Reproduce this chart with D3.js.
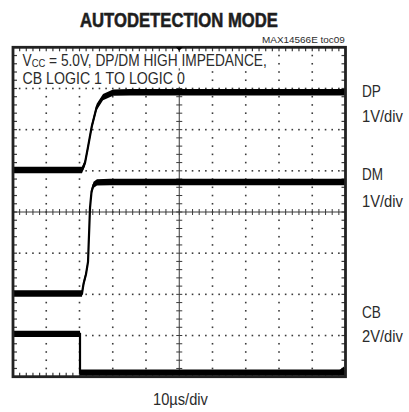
<!DOCTYPE html>
<html>
<head>
<meta charset="utf-8">
<script src="https://cdn.jsdelivr.net/npm/d3@7"></script>
<style>
  html, body { margin: 0; padding: 0; background: #fff; }
  svg { display: block; }
  text { font-family: "Liberation Sans", Arial, sans-serif; fill: #2b2b2b; }
</style>
</head>
<body>
<div id="chart"></div>
<script>
// ---- data (time in µs, level in screen divisions from centre) ----
const timeDP  = [0, 20.75, 21.65, 22.56, 23.67, 25.17, 27.07, 30.08, 35.19, 100];
const levelDP = [1.02, 1.02, 1.19, 1.58, 2.07, 2.55, 2.79, 2.90, 2.91, 2.91];

const timeDM  = [0, 20.75, 21.2, 21.95, 22.56, 22.86, 23.16, 23.61, 24.21, 25.26, 29.17, 100];
const levelDM = [-1.98, -1.98, -1.75, -1.51, -1.21, -0.56, 0.10, 0.49, 0.66, 0.72, 0.73, 0.73];

const timeCB  = [0, 20.15, 20.15, 100];
const levelCB = [-2.96, -2.96, -3.90, -3.90];

const channelNames = ["DP", "DM", "CB"];
const channelScales = ["1V/div", "1V/div", "2V/div"];

const titleText = "AUTODETECTION MODE";
const partText = "MAX14566E toc09";
const condLine1 = ["V", "CC", " = 5.0V, DP/DM HIGH IMPEDANCE,"];
const condLine2 = "CB LOGIC 1 TO LOGIC 0";
const timeBaseText = "10µs/div";

const xDivs = 10, yDivs = 8, minorPerDiv = 5;

// ---- layout ----
const W = 409, H = 412;
const L = 13, R = 345.5, T = 47.3, B = 376.7;

const svg = d3.select("#chart").append("svg").attr("width", W).attr("height", H);

const x = d3.scaleLinear().domain([0, 100]).range([L, R]);
const y = d3.scaleLinear().domain([-4, 4]).range([B, T]);
const xDiv = d3.scaleLinear().domain([0, xDivs]).range([L, R]);
const yDiv = d3.scaleLinear().domain([0, yDivs]).range([B, T]);

// ---- grid dots ----
const grid = svg.append("g").attr("fill", "#3a3a3a");
for (let i = 1; i < xDivs; i++) {
  if (i === xDivs / 2) continue;
  for (let k = 1; k < yDivs * minorPerDiv; k++) {
    grid.append("rect").attr("x", xDiv(i) - 0.8).attr("y", yDiv(k / minorPerDiv) - 0.8)
      .attr("width", 1.6).attr("height", 1.6);
  }
}
for (let j = 1; j < yDivs; j++) {
  if (j === yDivs / 2) continue;
  for (let k = 1; k < xDivs * minorPerDiv; k++) {
    if (k % minorPerDiv === 0) continue;
    grid.append("rect").attr("x", xDiv(k / minorPerDiv) - 0.8).attr("y", yDiv(j) - 0.8)
      .attr("width", 1.6).attr("height", 1.6);
  }
}

// ---- centre cross with ticks ----
const cross = svg.append("g").attr("stroke", "#3a3a3a").attr("stroke-width", 1);
const cx = xDiv(xDivs / 2), cy = yDiv(yDivs / 2);
cross.append("line").attr("x1", L).attr("x2", R).attr("y1", cy).attr("y2", cy);
cross.append("line").attr("x1", cx).attr("x2", cx).attr("y1", T).attr("y2", B);
for (let k = 1; k < xDivs * minorPerDiv; k++) {
  const px = xDiv(k / minorPerDiv);
  cross.append("line").attr("x1", px).attr("x2", px).attr("y1", cy - 3).attr("y2", cy + 3);
}
for (let k = 1; k < yDivs * minorPerDiv; k++) {
  const py = yDiv(k / minorPerDiv);
  cross.append("line").attr("x1", cx - 3).attr("x2", cx + 3).attr("y1", py).attr("y2", py);
}

// ---- border ticks ----
const bt = svg.append("g").attr("stroke", "#3a3a3a").attr("stroke-width", 1.2);
for (let k = 1; k < xDivs * minorPerDiv; k++) {
  const px = xDiv(k / minorPerDiv);
  bt.append("line").attr("x1", px).attr("x2", px).attr("y1", B).attr("y2", B - 4);
  bt.append("line").attr("x1", px).attr("x2", px).attr("y1", T).attr("y2", T + 4);
}
for (let k = 1; k < yDivs * minorPerDiv; k++) {
  const py = yDiv(k / minorPerDiv);
  bt.append("line").attr("x1", L).attr("x2", L + 4).attr("y1", py).attr("y2", py);
  bt.append("line").attr("x1", R).attr("x2", R - 4).attr("y1", py).attr("y2", py);
}

// ---- traces ----
function drawTrace(ts, vs) {
  const pts = ts.map((t, i) => [t, vs[i]]);
  const area = d3.area().x(d => x(d[0])).y0(d => y(d[1]) - 3.2).y1(d => y(d[1]) + 3.2);
  svg.append("path").attr("d", area(pts)).attr("fill", "#000");
  const line = d3.line().x(d => x(d[0])).y(d => y(d[1]));
  svg.append("path").attr("d", line(pts)).attr("fill", "none")
    .attr("stroke", "#000").attr("stroke-width", 2.2);
}
drawTrace(timeDP, levelDP);
drawTrace(timeDM, levelDM);
drawTrace(timeCB, levelCB);

// ---- frame ----
svg.append("rect").attr("x", L).attr("y", T).attr("width", R - L).attr("height", B - T)
  .attr("fill", "none").attr("stroke", "#222").attr("stroke-width", 2.8);

// trigger marker on top, ground marker on right
svg.append("path").attr("d", `M${cx - 3.5},${T} L${cx + 3.5},${T} L${cx},${T + 3.5} Z`).attr("fill", "#000");
const gy = y(levelCB[levelCB.length - 1]) - 2.5;
svg.append("path").attr("d", `M${R - 6},${gy} L${R - 1.5},${gy - 3.5} L${R - 1.5},${gy + 3.5} Z`).attr("fill", "#000");

// ---- text helper (fits text to measured width) ----
function placeText(parts, xPos, yBase, size, weight, targetW, anchor, knockout) {
  const g = svg.append("g");
  const t = g.append("text").attr("x", 0).attr("y", 0).attr("font-size", size).attr("font-weight", weight);
  if (Array.isArray(parts)) {
    t.append("tspan").text(parts[0]);
    t.append("tspan").attr("font-size", size * 0.69).attr("dy", 1.5).text(parts[1]);
    t.append("tspan").attr("dy", -1.5).text(parts[2]);
  } else {
    t.text(parts);
  }
  const bb = t.node().getBBox();
  const s = bb.width > 0 ? targetW / bb.width : 1;
  let x0 = xPos - bb.x * s;
  if (anchor === "end") x0 = xPos - (bb.x + bb.width) * s;
  if (anchor === "middle") x0 = xPos - (bb.x + bb.width / 2) * s;
  g.attr("transform", `translate(${x0},${yBase}) scale(${s},1)`);
  if (knockout) {
    g.insert("rect", "text")
      .attr("x", bb.x - 1.5 / s).attr("y", -size * 0.74 - 1.5)
      .attr("width", bb.width + 3 / s).attr("height", size * 0.74 + 4)
      .attr("fill", "#fff");
  }
  return t;
}

placeText(titleText, 80, 27, 21, "bold", 198, "start").style("fill", "#1e1e1e").attr("stroke", "#1e1e1e").attr("stroke-width", 0.6);
placeText(partText, 345, 42.5, 9, "normal", 83, "end");
placeText(condLine1, 22.5, 65.8, 16.5, "normal", 244.5, "start", true);
placeText(condLine2, 22.5, 84.3, 16.5, "normal", 162.5, "start", true);

const labelBaselines = [[96.7, 121.7], [180, 206.5], [318, 341.7]];
const labelWidths = [19, 21, 19];
channelNames.forEach((n, i) => {
  placeText(n, 362, labelBaselines[i][0], 16, "normal", labelWidths[i], "start");
  placeText(channelScales[i], 362, labelBaselines[i][1], 16, "normal", 41, "start");
});

placeText(timeBaseText, 180.5, 405, 16, "normal", 55, "middle");
</script>
</body>
</html>
